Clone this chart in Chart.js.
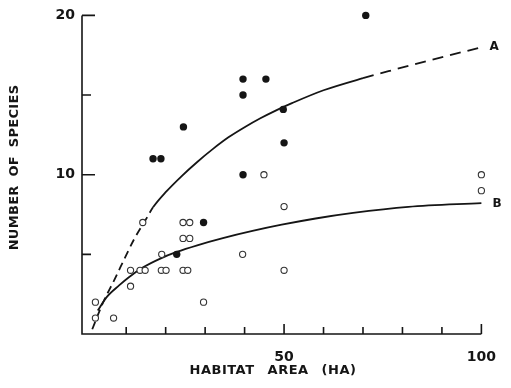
<!DOCTYPE html>
<html>
<head>
<meta charset="utf-8">
<script src="https://cdn.jsdelivr.net/npm/chart.js@4.4.1/dist/chart.umd.min.js"></script>
<style>
html,body{margin:0;padding:0;background:#fff;}
canvas{display:block;}
</style>
</head>
<body>
<canvas id="c" width="511" height="388"></canvas>
<script>
// ---- data ----
const filledX = [39.6, 39.6, 24.5, 16.8, 18.8, 39.6, 70.7, 45.4, 49.8, 50, 29.6, 22.8];
const filledY = [16, 15, 13, 11, 11, 10, 20, 16, 14.1, 12, 7, 5];

const openX = [2.2, 2.2, 6.8, 11.1, 11.1, 13.5, 14.8, 14.2, 19.0, 18.9, 20.1, 24.4, 26.1, 24.4, 26.1, 24.4, 25.6, 29.6, 39.5, 44.9, 100, 100, 50, 50];
const openY = [2, 1, 1, 3, 4, 4, 4, 7, 5, 4, 4, 7, 7, 6, 6, 4, 4, 2, 5, 10, 10, 9, 8, 4];

const curveAX = [1.4, 4, 7, 10, 12, 15, 16.8, 20, 24, 28, 32, 36, 40, 44, 48, 52, 60, 70, 78, 86, 100];
const curveAY = [0.3, 1.9, 3.4, 4.95, 5.95, 7.2, 7.95, 8.9, 9.9, 10.8, 11.62, 12.36, 12.98, 13.54, 14.04, 14.49, 15.3, 16.06, 16.6, 17.12, 18.0];

const curveBX = [2.8, 5, 8.2, 10.6, 14.4, 18.5, 22.8, 28, 34.5, 42, 49.4, 58, 67.5, 81.5, 100];
const curveBY = [1.47, 2.3, 3.05, 3.55, 4.2, 4.72, 5.15, 5.57, 6.02, 6.47, 6.86, 7.25, 7.6, 7.98, 8.22];

const yTicks = [5, 10, 15, 20];
const yTickLabels = {10: '10', 20: '20'};
const xTicks = [10, 20, 30, 40, 50, 60, 70, 80, 90, 100];
const xTickLabels = {50: '50', 100: '100'};

const xTitle = 'HABITAT AREA (HA)';
const yTitle = 'NUMBER OF SPECIES';
const labelA = 'A';
const labelB = 'B';
const dashFrom = 70, dashTo = 16.8;

const toPts = (xs, ys) => xs.map((x, i) => ({x: x, y: ys[i]}));

const INK = '#151515';

const axesPlugin = {
  id: 'axesPlugin',
  beforeDatasetsDraw(chart) {
    const {ctx, chartArea: a, scales: {x, y}} = chart;
    ctx.save();
    ctx.strokeStyle = INK;
    ctx.lineWidth = 1.6;
    ctx.lineCap = 'butt';
    ctx.beginPath();
    ctx.moveTo(a.left, a.top);
    ctx.lineTo(a.left, a.bottom);
    ctx.lineTo(a.right, a.bottom);
    ctx.stroke();
    ctx.beginPath();
    yTicks.forEach(v => {
      const py = y.getPixelForValue(v);
      const len = yTickLabels[v] ? 13 : 9;
      ctx.moveTo(a.left, py);
      ctx.lineTo(a.left + len, py);
    });
    xTicks.forEach(v => {
      const px = x.getPixelForValue(v);
      const len = xTickLabels[v] ? 10 : 7;
      ctx.moveTo(px, a.bottom);
      ctx.lineTo(px, a.bottom - len);
    });
    ctx.stroke();
    ctx.restore();
  },
  afterDraw(chart) {
    const {ctx, scales: {x, y}} = chart;
    ctx.save();
    ctx.fillStyle = INK;
    ctx.textAlign = 'center';
    ctx.textBaseline = 'middle';
    ctx.font = 'bold 13px "DejaVu Sans"';
    try { ctx.letterSpacing = '0.5px'; ctx.wordSpacing = '8px'; } catch (e) {}
    ctx.fillText(xTitle, 273, 371);
    try { ctx.letterSpacing = '0.3px'; ctx.wordSpacing = '4px'; } catch (e) {}
    ctx.save();
    ctx.translate(15, 167.5);
    ctx.rotate(-Math.PI / 2);
    ctx.fillText(yTitle, 0, 0);
    ctx.restore();
    try { ctx.letterSpacing = '0px'; ctx.wordSpacing = '0px'; } catch (e) {}
    ctx.font = 'bold 12px "DejaVu Sans"';
    ctx.textAlign = 'left';
    const aLast = x.getPixelForValue(curveAX[curveAX.length - 1]);
    const aLastY = y.getPixelForValue(curveAY[curveAY.length - 1]);
    ctx.fillText(labelA, aLast + 8, aLastY);
    const bLast = x.getPixelForValue(curveBX[curveBX.length - 1]);
    const bLastY = y.getPixelForValue(curveBY[curveBY.length - 1]);
    ctx.fillText(labelB, bLast + 11, bLastY + 1);
    ctx.restore();
  }
};

new Chart(document.getElementById('c'), {
  type: 'scatter',
  data: {
    datasets: [
      {
        label: 'filled',
        data: toPts(filledX, filledY),
        pointRadius: 3.7,
        pointBackgroundColor: INK,
        pointBorderColor: INK,
        pointBorderWidth: 0,
        clip: false,
        order: 0
      },
      {
        label: 'open',
        data: toPts(openX, openY),
        pointRadius: 3.1,
        pointBackgroundColor: '#fff',
        pointBorderColor: '#333',
        pointBorderWidth: 1.1,
        clip: false,
        order: 1
      },
      {
        label: 'A',
        data: toPts(curveAX, curveAY),
        showLine: true,
        pointRadius: 0,
        borderColor: INK,
        borderWidth: 1.8,
        cubicInterpolationMode: 'monotone',
        clip: false,
        segment: {
          borderDash: c => c.p0.parsed.x < dashTo ? [8, 5] : (c.p0.parsed.x >= dashFrom ? [11, 7] : undefined)
        },
        order: 2
      },
      {
        label: 'B',
        data: toPts(curveBX, curveBY),
        showLine: true,
        pointRadius: 0,
        borderColor: INK,
        borderWidth: 1.8,
        cubicInterpolationMode: 'monotone',
        clip: false,
        order: 3
      }
    ]
  },
  options: {
    responsive: false,
    animation: false,
    devicePixelRatio: 1,
    layout: {padding: {top: 13, right: 19, left: 0, bottom: 0}},
    plugins: {legend: {display: false}, tooltip: {enabled: false}},
    scales: {
      x: {
        type: 'linear',
        min: -1.2,
        max: 100,
        grid: {display: false, drawTicks: false},
        border: {display: false},
        afterBuildTicks: s => { s.ticks = xTicks.map(v => ({value: v})); },
        afterFit: s => { s.height = 54; },
        ticks: {
          padding: 15,
          color: INK,
          font: {family: 'DejaVu Sans', size: 14, weight: 'bold'},
          maxRotation: 0,
          autoSkip: false,
          callback: v => xTickLabels[v] || ''
        }
      },
      y: {
        type: 'linear',
        min: 0,
        max: 20,
        grid: {display: false, drawTicks: false},
        border: {display: false},
        afterBuildTicks: s => { s.ticks = yTicks.map(v => ({value: v})); },
        afterFit: s => { s.width = 82; },
        ticks: {
          padding: 7,
          color: INK,
          font: {family: 'DejaVu Sans', size: 14, weight: 'bold'},
          autoSkip: false,
          callback: v => yTickLabels[v] || ''
        }
      }
    }
  },
  plugins: [axesPlugin]
});
</script>
</body>
</html>
